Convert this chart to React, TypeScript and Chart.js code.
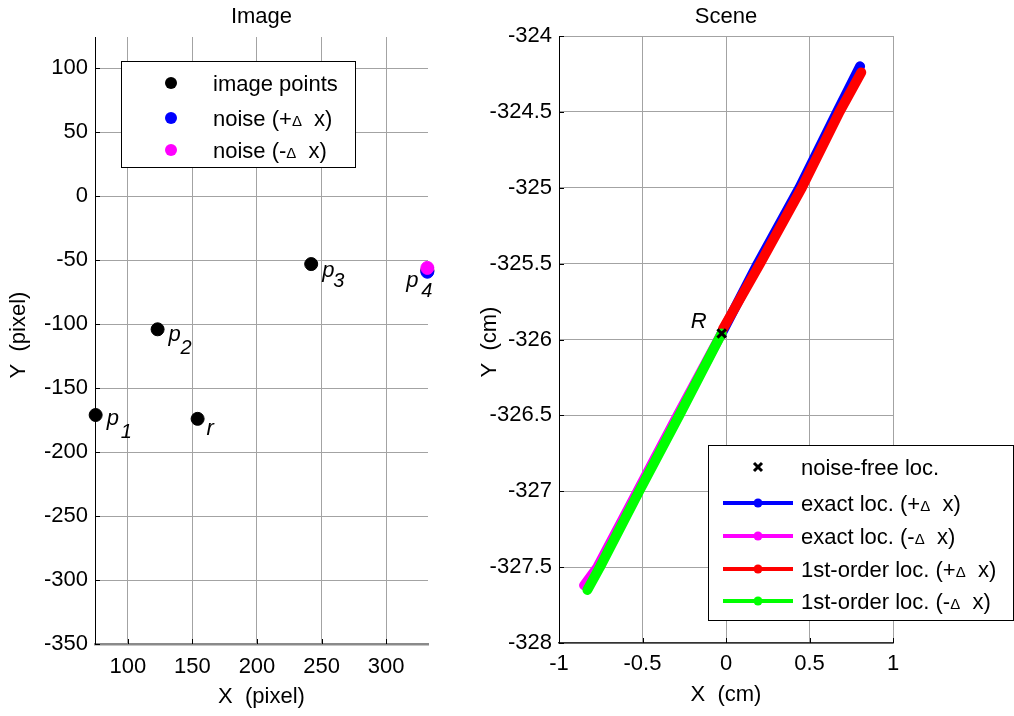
import React, { useEffect, useRef } from 'react';
import { Chart, registerables } from 'chart.js';
Chart.register(...registerables);

// ---------- data: Image panel ----------
const imgNames = ['p', 'p', 'r', 'p', 'p'];
const imgSubs = ['1', '2', '', '3', '4'];
const imgX = [75, 123, 154, 242, 332];
const imgY = [-171, -104, -174, -53, -58];
const noisePlusX = [332];
const noisePlusY = [-59];
const noiseMinusX = [332];
const noiseMinusY = [-56];
const imgXTicks = [100, 150, 200, 250, 300];
const imgYTicks = [100, 50, 0, -50, -100, -150, -200, -250, -300, -350];

// ---------- data: Scene panel ----------
const refX = [-0.026];
const refY = [-325.96];
const exactPlusX = [-0.026, 0.19, 0.44, 0.665, 0.803];
const exactPlusY = [-325.96, -325.5, -325.0, -324.5, -324.2];
const exactMinusX = [-0.026, -0.29, -0.53, -0.77, -0.85];
const exactMinusY = [-325.96, -326.5, -327.0, -327.5, -327.62];
const firstPlusX = [-0.018, 0.204, 0.454, 0.68, 0.81];
const firstPlusY = [-325.93, -325.5, -325.0, -324.5, -324.24];
const firstMinusX = [-0.026, -0.28, -0.52, -0.755, -0.83];
const firstMinusY = [-325.96, -326.5, -327.0, -327.5, -327.65];
const sceneXTicks = [-1, -0.5, 0, 0.5, 1];
const sceneYTicks = [-324, -324.5, -325, -325.5, -326, -326.5, -327, -327.5, -328];

const FAMILY = '"Liberation Sans", Arial, sans-serif';
const GRID = '#a3a3a3';
const FS = 22;

const pts = (xs: number[], ys: number[]) => xs.map((x, i) => ({ x, y: ys[i] }));

// label placement offsets (pixels) relative to each image point: [pdx, pdy, sdx, sdy]
const labelOffsets = [
  [11, 10, 25, 23],
  [11, 12, 23, 25],
  [9, 16, 0, 0],
  [11, 13, 22, 23],
  [-21, 17, -6, 27],
];

type Seg = { t: string; size: number };
function drawRich(ctx: CanvasRenderingContext2D, segs: Seg[], x: number, y: number) {
  let cx = x;
  ctx.textAlign = 'left';
  ctx.textBaseline = 'alphabetic';
  for (const s of segs) {
    ctx.font = `${s.size}px ${FAMILY}`;
    ctx.fillText(s.t, cx, y);
    cx += ctx.measureText(s.t).width;
  }
}
const deltaLabel = (pre: string, post: string): Seg[] => [
  { t: pre, size: FS },
  { t: '\u0394', size: 15 },
  { t: post, size: FS },
];

function inwardTicks(chart: any, xt: number[], yt: number[]) {
  const { ctx, chartArea } = chart;
  const xs = chart.scales.x;
  const ys = chart.scales.y;
  ctx.save();
  ctx.strokeStyle = '#000';
  ctx.lineWidth = 1;
  ctx.beginPath();
  for (const v of xt) {
    const px = Math.round(xs.getPixelForValue(v)) + 0.5;
    ctx.moveTo(px, chartArea.bottom);
    ctx.lineTo(px, chartArea.bottom - 5);
  }
  for (const v of yt) {
    const py = Math.round(ys.getPixelForValue(v)) + 0.5;
    ctx.moveTo(chartArea.left, py);
    ctx.lineTo(chartArea.left + 5, py);
  }
  ctx.stroke();
  ctx.restore();
}

function drawTitles(chart: any, title: string, xt: string, yt: string, xtY: number, ytX: number, ytY: number) {
  const { ctx, chartArea } = chart;
  const cx = (chartArea.left + chartArea.right) / 2;
  ctx.save();
  ctx.fillStyle = '#000';
  ctx.font = `${FS}px ${FAMILY}`;
  ctx.textAlign = 'center';
  ctx.textBaseline = 'middle';
  ctx.fillText(title, cx, 17);
  ctx.fillText(xt, cx, xtY);
  ctx.translate(ytX, ytY);
  ctx.rotate(-Math.PI / 2);
  ctx.fillText(yt, 0, 0);
  ctx.restore();
}

const imagePlugin = {
  id: 'imageExtras',
  afterDraw(chart: any) {
    const { ctx } = chart;
    inwardTicks(chart, imgXTicks, imgYTicks);
    drawTitles(chart, 'Image', 'X  (pixel)', 'Y  (pixel)', 697, 19, 335);
    const xs = chart.scales.x;
    const ys = chart.scales.y;
    ctx.save();
    ctx.fillStyle = '#000';
    ctx.textAlign = 'left';
    ctx.textBaseline = 'alphabetic';
    imgX.forEach((xv, i) => {
      const px = xs.getPixelForValue(xv);
      const py = ys.getPixelForValue(imgY[i]);
      const o = labelOffsets[i];
      ctx.font = `italic ${FS}px ${FAMILY}`;
      ctx.fillText(imgNames[i], px + o[0], py + o[1]);
      if (imgSubs[i]) {
        ctx.font = `italic 20px ${FAMILY}`;
        ctx.fillText(imgSubs[i], px + o[2], py + o[3]);
      }
    });
    // legend
    ctx.fillStyle = '#fff';
    ctx.fillRect(121, 61, 234, 106);
    ctx.strokeStyle = '#000';
    ctx.lineWidth = 1;
    ctx.strokeRect(121.5, 61.5, 234, 106);
    const rows = [
      { c: '#000000', y: 83, segs: [{ t: 'image points', size: FS }] as Seg[] },
      { c: '#0000ff', y: 118, segs: deltaLabel('noise (+', '  x)') },
      { c: '#ff00ff', y: 150, segs: deltaLabel('noise (-', '  x)') },
    ];
    for (const r of rows) {
      ctx.fillStyle = r.c;
      ctx.beginPath();
      ctx.arc(171, r.y, 6, 0, Math.PI * 2);
      ctx.fill();
      ctx.fillStyle = '#000';
      drawRich(ctx, r.segs, 213, r.y + 8);
    }
    ctx.restore();
  },
};

const scenePlugin = {
  id: 'sceneExtras',
  afterDraw(chart: any) {
    const { ctx } = chart;
    inwardTicks(chart, sceneXTicks, sceneYTicks);
    drawTitles(chart, 'Scene', 'X  (cm)', 'Y  (cm)', 695, 20, 342);
    const xs = chart.scales.x;
    const ys = chart.scales.y;
    ctx.save();
    ctx.fillStyle = '#000';
    ctx.font = `italic ${FS}px ${FAMILY}`;
    ctx.textAlign = 'left';
    ctx.textBaseline = 'alphabetic';
    ctx.fillText('R', xs.getPixelForValue(refX[0]) - 31, ys.getPixelForValue(refY[0]) - 5);
    // legend
    const L = 238, T = 445, W = 305, H = 175;
    ctx.fillStyle = '#fff';
    ctx.fillRect(L, T, W, H);
    ctx.strokeStyle = '#000';
    ctx.lineWidth = 1;
    ctx.strokeRect(L + 0.5, T + 0.5, W, H);
    // cross row
    ctx.strokeStyle = '#000';
    ctx.lineWidth = 3;
    ctx.beginPath();
    ctx.moveTo(284, 463); ctx.lineTo(292, 471);
    ctx.moveTo(292, 463); ctx.lineTo(284, 471);
    ctx.stroke();
    ctx.fillStyle = '#000';
    drawRich(ctx, [{ t: 'noise-free loc.', size: FS }], 331, 475);
    const rows = [
      { c: '#0000ff', y: 503, segs: deltaLabel('exact loc. (+', '  x)') },
      { c: '#ff00ff', y: 536, segs: deltaLabel('exact loc. (-', '  x)') },
      { c: '#ff0000', y: 569, segs: deltaLabel('1st-order loc. (+', '  x)') },
      { c: '#00ff00', y: 601, segs: deltaLabel('1st-order loc. (-', '  x)') },
    ];
    for (const r of rows) {
      ctx.strokeStyle = r.c;
      ctx.lineWidth = 4;
      ctx.beginPath();
      ctx.moveTo(253, r.y);
      ctx.lineTo(323, r.y);
      ctx.stroke();
      ctx.fillStyle = r.c;
      ctx.beginPath();
      ctx.arc(288, r.y, 4.5, 0, Math.PI * 2);
      ctx.fill();
      ctx.fillStyle = '#000';
      drawRich(ctx, r.segs, 331, r.y + 8);
    }
    ctx.restore();
  },
};

function axisOpts(min: number, max: number, ticks: number[], fit: number, horizontal: boolean, pad: number, borderColor: string, borderWidth: number) {
  return {
    type: 'linear' as const,
    min,
    max,
    afterBuildTicks: (s: any) => {
      s.ticks = ticks.map((v) => ({ value: v }));
    },
    afterFit: (s: any) => {
      if (horizontal) s.height = fit;
      else s.width = fit;
    },
    grid: { color: GRID, lineWidth: 1, drawTicks: false },
    border: { color: borderColor, width: borderWidth },
    ticks: {
      color: '#000',
      font: { family: FAMILY, size: FS },
      padding: pad,
      maxRotation: 0,
      autoSkip: false,
      callback: (v: any) => String(v),
    },
  };
}

function ImageChart() {
  const ref = useRef<HTMLCanvasElement>(null);
  useEffect(() => {
    const chart = new Chart(ref.current!, {
      type: 'scatter',
      data: {
        datasets: [
          { label: 'noise (-Δ x)', data: pts(noiseMinusX, noiseMinusY), backgroundColor: '#ff00ff', borderColor: '#ff00ff', pointRadius: 6.5, order: 0, clip: false },
          { label: 'noise (+Δ x)', data: pts(noisePlusX, noisePlusY), backgroundColor: '#0000ff', borderColor: '#0000ff', pointRadius: 6.5, order: 1, clip: false },
          { label: 'image points', data: pts(imgX, imgY), backgroundColor: '#000', borderColor: '#000', pointRadius: 6.5, order: 2, clip: false },
        ],
      },
      options: {
        responsive: false,
        animation: false,
        layout: { padding: { top: 37, right: 42, left: 0, bottom: 0 } },
        plugins: { legend: { display: false }, tooltip: { enabled: false }, title: { display: false } },
        scales: {
          x: axisOpts(74.5, 332.5, imgXTicks, 72, true, 10, '#8a8a8a', 2.5),
          y: axisOpts(-350, 124.5, imgYTicks, 95, false, 7, '#000', 1),
        },
      },
      plugins: [imagePlugin],
    });
    return () => chart.destroy();
  }, []);
  return <canvas ref={ref} width={470} height={716} style={{ position: 'absolute', left: 0, top: 0 }} />;
}

function SceneChart() {
  const ref = useRef<HTMLCanvasElement>(null);
  useEffect(() => {
    const line = (label: string, xs: number[], ys: number[], c: string, order: number) => ({
      label,
      data: pts(xs, ys),
      showLine: true,
      borderColor: c,
      backgroundColor: c,
      borderWidth: 10,
      borderCapStyle: 'round' as const,
      borderJoinStyle: 'round' as const,
      pointRadius: 4,
      pointBorderWidth: 0,
      order,
      clip: false,
    });
    const chart = new Chart(ref.current!, {
      type: 'scatter',
      data: {
        datasets: [
          {
            label: 'noise-free loc.',
            data: pts(refX, refY),
            pointStyle: 'crossRot' as const,
            pointRadius: 6,
            borderColor: '#000',
            backgroundColor: '#000',
            pointBorderWidth: 3,
            order: 0,
            clip: false,
          },
          line('1st-order loc. (-Δ x)', firstMinusX, firstMinusY, '#00ff00', 1),
          line('1st-order loc. (+Δ x)', firstPlusX, firstPlusY, '#ff0000', 2),
          line('exact loc. (-Δ x)', exactMinusX, exactMinusY, '#ff00ff', 3),
          line('exact loc. (+Δ x)', exactPlusX, exactPlusY, '#0000ff', 4),
        ],
      },
      options: {
        responsive: false,
        animation: false,
        layout: { padding: { top: 36, right: 121, left: 0, bottom: 0 } },
        plugins: { legend: { display: false }, tooltip: { enabled: false }, title: { display: false } },
        scales: {
          x: axisOpts(-1, 1, sceneXTicks, 73, true, 8, '#333', 1.5),
          y: axisOpts(-328, -324, sceneYTicks, 89, false, 7, '#000', 1),
        },
      },
      plugins: [scenePlugin],
    });
    return () => chart.destroy();
  }, []);
  return <canvas ref={ref} width={544} height={716} style={{ position: 'absolute', left: 470, top: 0 }} />;
}

export default function App() {
  return (
    <div style={{ position: 'fixed', left: 0, top: 0, width: 1014, height: 716, background: '#fff' }}>
      <ImageChart />
      <SceneChart />
    </div>
  );
}
